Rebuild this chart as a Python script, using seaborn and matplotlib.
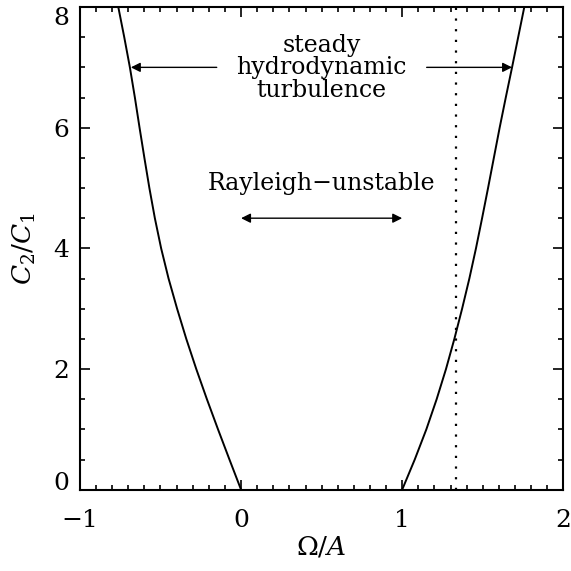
import matplotlib
matplotlib.use("Agg")
import matplotlib.pyplot as plt
from matplotlib.ticker import MultipleLocator
import seaborn as sns

# curve values (C2/C1 levels and Omega/A positions)
c_ratio = [0.0, 0.5, 1.0, 1.5, 2.0, 2.5, 3.0, 3.5, 4.0, 4.5, 5.0, 5.5, 6.0, 6.5, 7.0, 7.5, 8.0]
omega_left = [0.0, -0.072, -0.143, -0.212, -0.278, -0.340, -0.397, -0.450, -0.496,
              -0.535, -0.569, -0.600, -0.630, -0.659, -0.690, -0.725, -0.762]
omega_right = [1.0, 1.078, 1.150, 1.214, 1.272, 1.324, 1.372, 1.417, 1.458,
               1.496, 1.533, 1.569, 1.605, 1.643, 1.682, 1.720, 1.758]
omega_dotted = 4.0 / 3.0

turb_text = "steady\nhydrodynamic\nturbulence"
rayleigh_text = "Rayleigh\u2212unstable"

sns.set_style("ticks")
plt.rcParams['font.family'] = ['DejaVu Serif']
plt.rcParams['mathtext.fontset'] = 'dejavuserif'
plt.rcParams['text.color'] = 'black'
plt.rcParams['axes.labelcolor'] = 'black'

fig = plt.figure(figsize=(5.71, 5.71), dpi=100)
ax = fig.add_axes([0.140, 0.1424, 0.8465, 0.8453])

sns.lineplot(x=omega_left, y=c_ratio, sort=False, estimator=None, color='black', lw=1.4, ax=ax)
sns.lineplot(x=omega_right, y=c_ratio, sort=False, estimator=None, color='black', lw=1.4, ax=ax)
ax.plot([omega_dotted, omega_dotted], [0, 8], color='black', lw=1.6, linestyle=(0, (1.0, 3.8)))

arrow = dict(arrowstyle='-|>', color='black', lw=1.0, mutation_scale=14, shrinkA=0, shrinkB=0)
ax.annotate('', xy=(-0.684, 7.0), xytext=(-0.151, 7.0), arrowprops=arrow)
ax.annotate('', xy=(1.682, 7.0), xytext=(1.152, 7.0), arrowprops=arrow)
ax.annotate('', xy=(0.0, 4.5), xytext=(1.0, 4.5),
            arrowprops=dict(arrowstyle='<|-|>', color='black', lw=1.0, mutation_scale=14,
                            shrinkA=0, shrinkB=0))

ax.text(0.5, 6.99, turb_text, ha='center', va='center', fontsize=17, linespacing=0.98)
ax.text(0.5, 5.07, rayleigh_text, ha='center', va='center', fontsize=17)

ax.set_xlim(-1, 2)
ax.set_ylim(0, 8)
ax.xaxis.set_major_locator(MultipleLocator(1))
ax.xaxis.set_minor_locator(MultipleLocator(0.1))
ax.yaxis.set_major_locator(MultipleLocator(2))
ax.yaxis.set_minor_locator(MultipleLocator(0.5))
ax.tick_params(which='both', direction='in', top=True, right=True, width=1.2, colors='black')
ax.tick_params(which='major', length=7, labelsize=18)
ax.tick_params(which='minor', length=3.8)
ax.tick_params(axis='x', which='major', pad=14)
ax.tick_params(axis='y', which='major', pad=8)
for s in ax.spines.values():
    s.set_linewidth(1.5)
    s.set_color('black')
    s.set_visible(True)

ax.set_xlabel(r'$\Omega/A$', fontsize=19, labelpad=2)
ax.set_ylabel(r'$C_2/C_1$', fontsize=19, labelpad=11)

# IDL-style: end labels kept inside the axis range
fig.canvas.draw()
for lab in ax.get_yticklabels():
    if lab.get_text() == '8':
        lab.set_va('top')
    elif lab.get_text() == '0':
        lab.set_va('baseline')

fig.savefig("out.png", dpi=100)
plt.close(fig)
